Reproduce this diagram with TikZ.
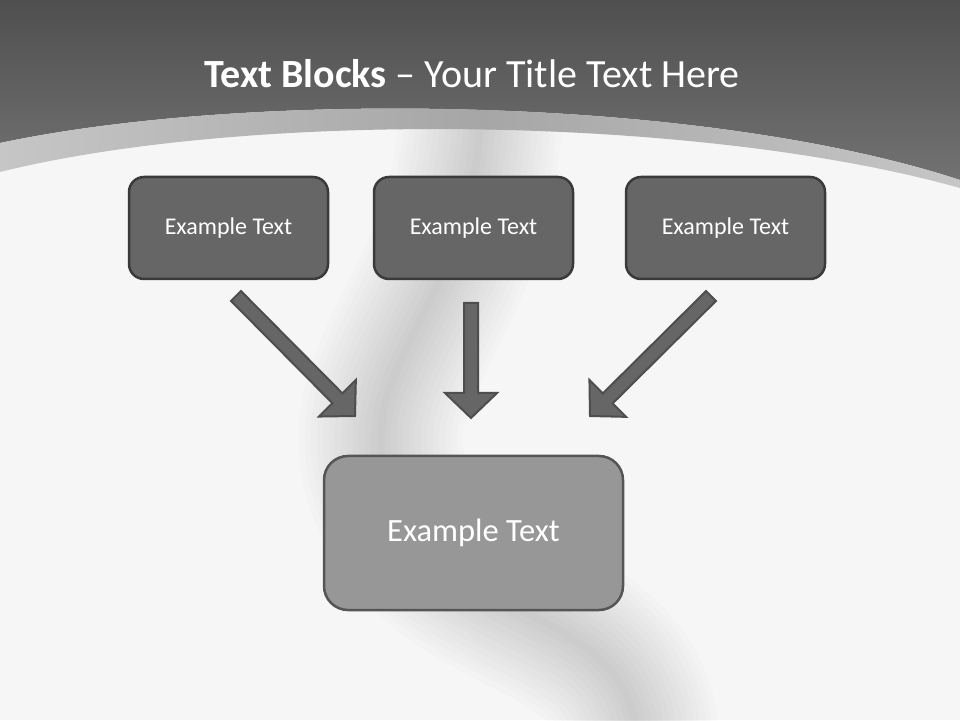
\documentclass[tikz,border=0pt]{standalone}
\usepackage{fontspec}
\setmainfont{Carlito}
\usetikzlibrary{calc}

\definecolor{hdtop}{HTML}{4F4F4F}
\definecolor{hdbot}{HTML}{727272}
\definecolor{bandside}{HTML}{C6C6C6}
\definecolor{bandmid}{HTML}{A6A6A6}
\definecolor{slidebg}{HTML}{F6F6F6}
\definecolor{boxfill}{HTML}{666666}
\definecolor{boxline}{HTML}{3A3A3A}
\definecolor{mainfill}{HTML}{979797}
\definecolor{mainline}{HTML}{555555}
\definecolor{arrowline}{HTML}{4E4E4E}

\tikzset{
  textblock/.style={draw=boxline, fill=boxfill, line width=2.5pt, rounded corners=15pt,
    minimum width=199pt, minimum height=102pt, text=white, font=\fontsize{24}{28}\selectfont},
  mainblock/.style={draw=mainline, fill=mainfill, line width=2.5pt, rounded corners=24pt,
    minimum width=299pt, minimum height=154pt, text=white, font=\fontsize{32.5}{38}\selectfont},
  blockarrow/.style={draw=arrowline, fill=boxfill, line width=2pt, line join=miter},
}

\begin{document}
\begin{tikzpicture}[x=1pt,y=1pt]
    \useasboundingbox (0,0) rectangle (960,720);
    \fill[slidebg] (0,0) rectangle (960,720);

    % soft shadow behind the blocks
    \foreach \w in {8,20,...,164}
        \draw[black, opacity=0.013, line width=\w pt, line cap=round]
            (480,600) .. controls (470,400) and (330,340) .. (400,210)
            .. controls (460,100) and (610,110) .. (635,0);

    % header and band
    \shade[top color=hdtop, bottom color=hdbot] (0,720) -- (960,720) -- (960,540)
        .. controls (700,625) and (250,630) .. (0,577) -- cycle;
    \shade[left color=bandside, right color=bandside, middle color=bandmid]
        (0,577) .. controls (250,630) and (700,625) .. (960,540) -- (960,532)
        .. controls (700,605) and (250,610) .. (0,548) -- cycle;

    \node[anchor=base, text=white, font=\fontsize{40}{48}\selectfont] (title) at (472,632)
        {\textbf{Text Blocks} -- Your Title Text Here};

    \node[textblock] (b1) at (228.5,492) {Example Text};
    \node[textblock] (b2) at (473.5,492) {Example Text};
    \node[textblock] (b3) at (725.5,492) {Example Text};
    \node[mainblock] (main) at (473.5,187) {Example Text};

    \coordinate (l0) at (236,424); \coordinate (l1) at (355,304);
    \coordinate (m0) at (471,417); \coordinate (m1) at (471,302);
    \coordinate (r0) at (711,424); \coordinate (r1) at (590,304);

    \foreach \s/\t in {l0/l1, m0/m1, r0/r1}
        \draw[blockarrow] let \p1=($(\t)-(\s)$), \n1={veclen(\x1,\y1)}, \n2={atan2(\y1,\x1)} in
            [shift={(\s)}, rotate=\n2] (0,-7) -- (\n1-25,-7) -- (\n1-25,-26) -- (\n1,0)
            -- (\n1-25,26) -- (\n1-25,7) -- (0,7) -- cycle;

\end{tikzpicture}
\end{document}
